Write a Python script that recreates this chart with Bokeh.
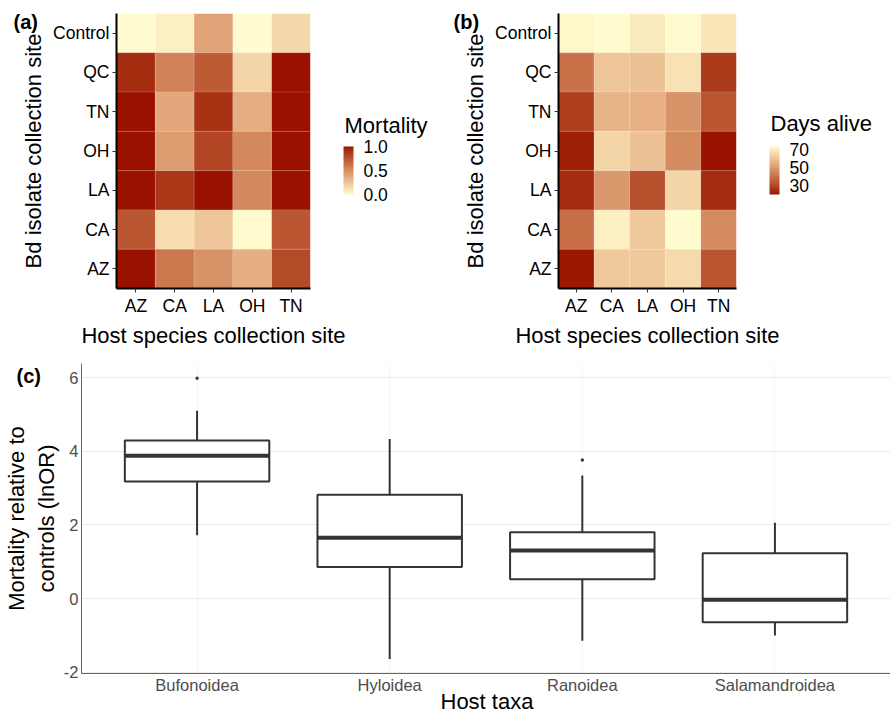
import numpy as np
from bokeh.plotting import figure
from bokeh.models import (ColumnDataSource, FactorRange, Range1d, LinearColorMapper, ColorBar,
                          FixedTicker, PrintfTickFormatter)
from bokeh.transform import transform, dodge
from bokeh.layouts import row, column
from bokeh.embed import file_html
from bokeh.resources import INLINE

# ---------------- data ----------------
host_sites = ["AZ", "CA", "LA", "OH", "TN"]
isolate_sites = ["AZ", "CA", "LA", "OH", "TN", "QC", "Control"]  # bottom -> top

# mortality per isolate row; columns = host sites AZ, CA, LA, OH, TN
mortality_control = [0.00, 0.05, 0.40, 0.00, 0.16]
mortality_qc = [0.92, 0.55, 0.73, 0.17, 1.00]
mortality_tn = [1.00, 0.38, 0.90, 0.35, 1.00]
mortality_oh = [1.00, 0.43, 0.82, 0.52, 1.00]
mortality_la = [1.00, 0.88, 1.00, 0.52, 1.00]
mortality_ca = [0.75, 0.14, 0.24, 0.00, 0.75]
mortality_az = [1.00, 0.60, 0.48, 0.34, 0.80]

# days alive per isolate row; columns = host sites AZ, CA, LA, OH, TN
days_control = [72, 73, 69, 73, 68]
days_qc = [40, 60, 59, 67, 27]
days_tn = [28, 56, 55, 48, 33]
days_oh = [22, 64, 59, 46, 20]
days_la = [24, 49, 32, 64, 24]
days_ca = [39, 70, 61, 73, 46]
days_az = [21, 61, 61, 65, 33]

mortality_ticks = [0.0, 0.5, 1.0]
days_ticks = [30, 50, 70]

taxa = ["Bufonoidea", "Hyloidea", "Ranoidea", "Salamandroidea"]
lower_whisker = [1.72, -1.64, -1.14, -1.00]
q1 = [3.18, 0.86, 0.53, -0.64]
median = [3.88, 1.65, 1.31, -0.03]
q3 = [4.29, 2.82, 1.80, 1.23]
upper_whisker = [5.10, 4.33, 3.34, 2.06]
outlier_taxa = ["Bufonoidea", "Ranoidea"]
outlier_values = [5.98, 3.76]
lnor_ticks = [-2, 0, 2, 4, 6]

# ---------------- colour ramp (CIELAB, like ggplot) ----------------
def _hex_to_rgb(h):
    h = h.lstrip("#")
    return np.array([int(h[i:i + 2], 16) for i in (0, 2, 4)], dtype=float) / 255.0

M = np.array([[0.4124564, 0.3575761, 0.1804375],
              [0.2126729, 0.7151522, 0.0721750],
              [0.0193339, 0.1191920, 0.9503041]])
WHITE = np.array([0.95047, 1.0, 1.08883])

def _to_lab(h):
    c = _hex_to_rgb(h)
    lin = np.where(c <= 0.04045, c / 12.92, ((c + 0.055) / 1.055) ** 2.4)
    xyz = M @ lin / WHITE
    f = np.where(xyz > (6 / 29) ** 3, np.cbrt(xyz), xyz / (3 * (6 / 29) ** 2) + 4 / 29)
    return np.array([116 * f[1] - 16, 500 * (f[0] - f[1]), 200 * (f[1] - f[2])])

def _from_lab(lab):
    L, a, b = lab
    fy = (L + 16) / 116
    fx = fy + a / 500
    fz = fy - b / 200
    f = np.array([fx, fy, fz])
    xyz = np.where(f > 6 / 29, f ** 3, 3 * (6 / 29) ** 2 * (f - 4 / 29)) * WHITE
    lin = np.linalg.solve(M, xyz)
    lin = np.clip(lin, 0, 1)
    c = np.where(lin <= 0.0031308, 12.92 * lin, 1.055 * lin ** (1 / 2.4) - 0.055)
    c = np.clip(np.round(c * 255), 0, 255).astype(int)
    return "#%02x%02x%02x" % tuple(c)

def lab_ramp(low, high, n=256):
    a, b = _to_lab(low), _to_lab(high)
    return [_from_lab(a + (b - a) * t) for t in np.linspace(0, 1, n)]

LIGHT = "#FFFBCE"
DARK = "#9A1100"
ramp = lab_ramp(LIGHT, DARK)

FONT = "Liberation Sans"
TOP_H = 350
HEAT_TOP, HEAT_BOTTOM = 13, 295
TAG_DROP = 10  # distance from carrier bottom to text baseline


def text_tag(mapper, text, x, y, size, bold=False):
    """A horizontal, scale-less colour bar used only to carry a free-floating text."""
    return ColorBar(color_mapper=mapper, orientation="horizontal", width=1, height=1,
                    title=text, title_text_font=FONT, title_text_font_size=size,
                    title_text_font_style="bold" if bold else "normal",
                    title_text_color="black", title_standoff=0,
                    scale_alpha=0, ticker=FixedTicker(ticks=[]),
                    major_label_text_alpha=0, major_label_text_font_size="1px",
                    major_tick_line_color=None, minor_tick_line_color=None,
                    bar_line_color=None, border_line_color=None,
                    background_fill_alpha=0, padding=0, label_standoff=0,
                    location=(x, y))


def heatmap(rows, mapper, left, frame_w, right, cb_title, ticks, fmt, tag, title_base):
    xs, ys, vs = [], [], []
    for iso, vals in rows:
        for host, v in zip(host_sites, vals):
            xs.append(host)
            ys.append(iso)
            vs.append(v)
    src = ColumnDataSource(dict(x=xs, y=ys, v=vs))
    p = figure(width=left + frame_w + right, height=TOP_H,
               x_range=FactorRange(*host_sites), y_range=FactorRange(*isolate_sites),
               output_backend="svg", toolbar_location=None,
               min_border_left=left, min_border_right=right,
               min_border_top=HEAT_TOP, min_border_bottom=TOP_H - HEAT_BOTTOM,
               outline_line_color=None, background_fill_color="white",
               border_fill_color="white")
    p.rect(x="x", y="y", width=1, height=1, source=src,
           fill_color=transform("v", mapper), line_color="white",
           line_alpha=0.25, line_width=0.5)
    p.grid.visible = False
    for ax in (p.xaxis[0], p.yaxis[0]):
        ax.axis_line_color = "black"
        ax.axis_line_width = 2
        ax.major_tick_line_color = "#333333"
        ax.major_tick_line_width = 1
        ax.major_tick_out = 4
        ax.major_tick_in = 0
        ax.minor_tick_line_color = None
        ax.major_label_text_font = FONT
        ax.major_label_text_font_size = "17.5px"
        ax.major_label_text_color = "black"
        ax.axis_label_text_font = FONT
        ax.axis_label_text_font_size = "22px"
        ax.axis_label_text_font_style = "normal"
        ax.axis_label_text_color = "black"
        ax.major_label_standoff = 3
        ax.axis_label_standoff = 4
    p.xaxis.axis_label = "Host species collection site"
    p.yaxis.axis_label = "Bd isolate collection site"

    cb = ColorBar(color_mapper=mapper, width=10, height=48,
                  ticker=FixedTicker(ticks=ticks), formatter=PrintfTickFormatter(format=fmt),
                  major_label_text_font=FONT, major_label_text_font_size="17.5px",
                  major_label_text_color="black",
                  label_standoff=10, major_tick_line_color=None, bar_line_color=None,
                  border_line_color=None, background_fill_alpha=0, padding=0,
                  location=(frame_w + 33, 94))
    p.add_layout(cb, "center")
    p.add_layout(text_tag(mapper, cb_title, frame_w + 34,
                          HEAT_BOTTOM - (title_base + TAG_DROP), "22px"), "center")
    p.add_layout(text_tag(mapper, tag, 13 - left, HEAT_BOTTOM - (30 + TAG_DROP),
                          "20px", bold=True), "center")
    return p


mort_mapper = LinearColorMapper(palette=ramp, low=0.0, high=1.0)
days_mapper = LinearColorMapper(palette=list(reversed(ramp)), low=20, high=73)

rows_mort = [("Control", mortality_control), ("QC", mortality_qc), ("TN", mortality_tn),
             ("OH", mortality_oh), ("LA", mortality_la), ("CA", mortality_ca), ("AZ", mortality_az)]
rows_days = [("Control", days_control), ("QC", days_qc), ("TN", days_tn),
             ("OH", days_oh), ("LA", days_la), ("CA", days_ca), ("AZ", days_az)]

pa = heatmap(rows_mort, mort_mapper, 116, 194, 130, "Mortality", mortality_ticks, "%.1f", "(a)", 135)
pb = heatmap(rows_days, days_mapper, 118, 178, 154, "Days alive", days_ticks, "%d", "(b)", 133)

# ---------------- panel (c) boxplot ----------------
C_H = 712 - TOP_H
C_LEFT, C_TOP, C_BOTTOM = 78, 13, 39
C_FRAME_BOTTOM = 712 - C_BOTTOM  # in page pixels
Y0, Y1 = -2.03, 6.38
pc = figure(width=890, height=C_H,
            x_range=FactorRange(*taxa, range_padding=0.1, range_padding_units="absolute"),
            y_range=Range1d(Y0, Y1),
            output_backend="svg", toolbar_location=None,
            min_border_left=C_LEFT, min_border_right=0, min_border_top=C_TOP,
            min_border_bottom=C_BOTTOM,
            outline_line_color=None, background_fill_color="white", border_fill_color="white")

box_src = ColumnDataSource(dict(taxa=taxa, lower=lower_whisker, q1=q1, med=median,
                                q3=q3, upper=upper_whisker))
BOX = "#333333"
pc.segment(x0="taxa", x1="taxa", y0="q3", y1="upper", source=box_src,
           line_color=BOX, line_width=2)
pc.segment(x0="taxa", x1="taxa", y0="q1", y1="lower", source=box_src,
           line_color=BOX, line_width=2)
pc.vbar(x="taxa", bottom="q1", top="q3", width=0.75, source=box_src,
        fill_color="white", line_color=BOX, line_width=2)
pc.segment(x0=dodge("taxa", -0.375, range=pc.x_range), x1=dodge("taxa", 0.375, range=pc.x_range),
           y0="med", y1="med", source=box_src, line_color=BOX, line_width=4, line_cap="butt")
pc.scatter(x=outlier_taxa, y=outlier_values, size=2.5, color=BOX)

pc.ygrid.ticker = FixedTicker(ticks=lnor_ticks)
pc.ygrid.grid_line_color = "#EBEBEB"
pc.ygrid.grid_line_width = 1
pc.xgrid.grid_line_color = "#F6F6F6"
pc.xgrid.grid_line_width = 1
pc.yaxis.ticker = FixedTicker(ticks=lnor_ticks)
pc.yaxis.formatter = PrintfTickFormatter(format="%d")
for ax in (pc.xaxis[0], pc.yaxis[0]):
    ax.axis_line_color = "#666666"
    ax.axis_line_width = 1
    ax.major_tick_line_color = None
    ax.major_tick_out = 0
    ax.major_tick_in = 0
    ax.minor_tick_line_color = None
    ax.major_label_text_font = FONT
    ax.major_label_text_font_size = "16.5px"
    ax.major_label_text_color = "#4D4D4D"
    ax.axis_label_text_font = FONT
    ax.axis_label_text_font_size = "22px"
    ax.axis_label_text_font_style = "normal"
    ax.axis_label_text_color = "black"
    ax.major_label_standoff = 3
    ax.axis_label_standoff = 2
pc.xaxis.major_label_standoff = 2
pc.yaxis.axis_label = "Mortality relative to\ncontrols (lnOR)"
pc.add_layout(text_tag(mort_mapper, "Host taxa", 437 - C_LEFT,
                       C_FRAME_BOTTOM - (704 + TAG_DROP), "22px"), "center")
pc.add_layout(text_tag(mort_mapper, "(c)", 13 - C_LEFT,
                       C_FRAME_BOTTOM - (377 + TAG_DROP), "20px", bold=True), "center")

layout = column(row(pa, pb), pc)
html = file_html(layout, INLINE)
html = html.replace("<head>", "<head><style>html, body {margin:0; padding:0;}</style>", 1)
open("out.html", "w").write(html)
